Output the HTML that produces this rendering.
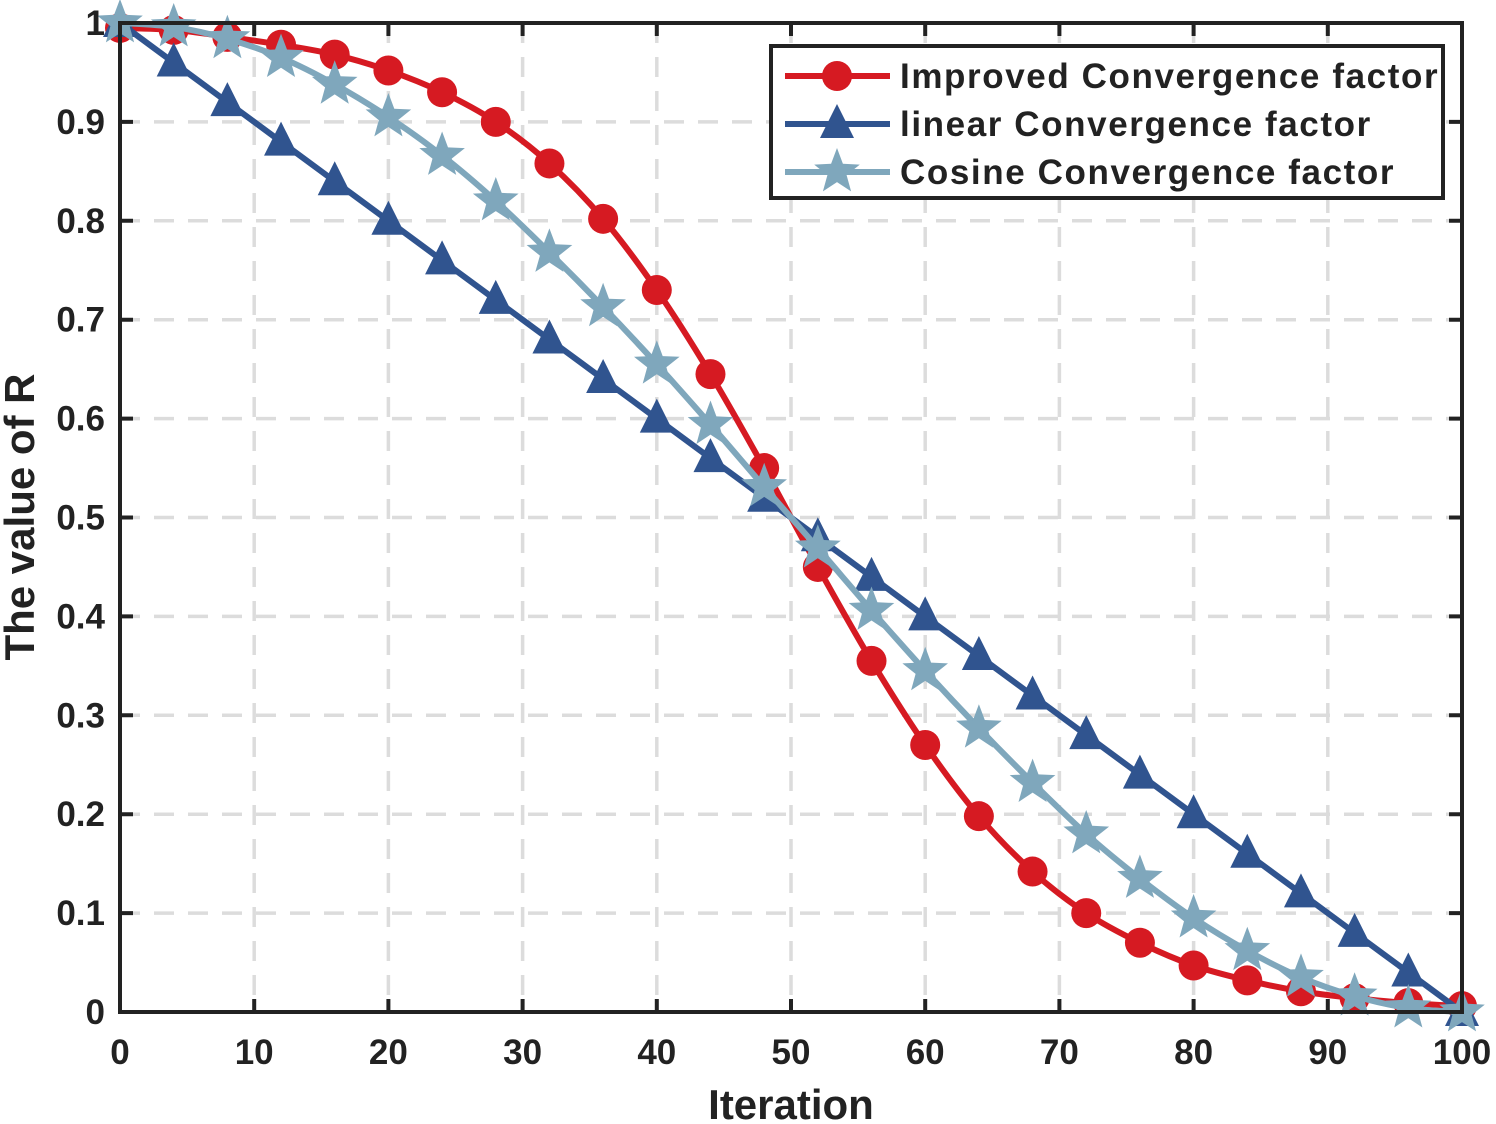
<!DOCTYPE html>
<html><head><meta charset="utf-8"><style>
html,body{margin:0;padding:0;background:#fff}
svg{display:block;font-family:"Liberation Sans",Arial,sans-serif;font-weight:bold}
</style></head><body>
<svg id="chart" width="1496" height="1124" viewBox="0 0 1496 1124" xmlns="http://www.w3.org/2000/svg">
<g id="grid"></g>
<g id="series"></g>
<g id="axes"></g>
<text x="791" y="1119" font-size="42" text-anchor="middle" fill="#222">Iteration</text>
<text transform="translate(34,517) rotate(-90)" font-size="42" text-anchor="middle" fill="#222">The value of R</text>
<g id="legend"></g>
</svg>
<script>
const xValues=[0,4,8,12,16,20,24,28,32,36,40,44,48,52,56,60,64,68,72,76,80,84,88,92,96,100];
const improvedValues=[0.995,0.993,0.986,0.978,0.968,0.952,0.93,0.9,0.858,0.802,0.73,0.645,0.55,0.45,0.355,0.27,0.198,0.142,0.1,0.07,0.047,0.032,0.021,0.014,0.009,0.006];
const linearValues=[1,0.96,0.92,0.88,0.84,0.8,0.76,0.72,0.68,0.64,0.6,0.56,0.52,0.48,0.44,0.4,0.36,0.32,0.28,0.24,0.2,0.16,0.12,0.08,0.04,0];
const cosineValues=[1,0.996,0.984,0.965,0.938,0.905,0.866,0.82,0.768,0.713,0.655,0.594,0.531,0.469,0.406,0.345,0.287,0.232,0.18,0.135,0.095,0.062,0.035,0.016,0.004,0];
const xTicks=[0,10,20,30,40,50,60,70,80,90,100];
const yTicks=[0,0.1,0.2,0.3,0.4,0.5,0.6,0.7,0.8,0.9,1];
const yTickLabels=["0","0.1","0.2","0.3","0.4","0.5","0.6","0.7","0.8","0.9","1"];
const legendLabels=["Improved Convergence factor","linear Convergence factor","Cosine Convergence factor"];

const L=120,R=1462,T=23,B=1012;
const sx=v=>L+(v/100)*(R-L);
const sy=v=>B-v*(B-T);
const NS="http://www.w3.org/2000/svg";
function mk(tag,attrs,parent){const e=document.createElementNS(NS,tag);for(const k in attrs)e.setAttribute(k,attrs[k]);parent.appendChild(e);return e;}
const grid=document.getElementById('grid'),axes=document.getElementById('axes'),series=document.getElementById('series'),legend=document.getElementById('legend');

xTicks.forEach(t=>{
 if(t>0&&t<100){const g=mk('line',{x1:sx(t),x2:sx(t),y1:T,y2:B,stroke:'#dcdcdc','stroke-width':3.5,'stroke-dasharray':'20 14'},grid);
 
 }
 const tk=mk('path',{d:`M${sx(t)},${B}v-13M${sx(t)},${T}v13`,stroke:'#222','stroke-width':4},axes);
 
 
 const lb=mk('text',{x:sx(t),y:1064,'font-size':35,'text-anchor':'middle',fill:'#222'},axes);lb.textContent=t;
 
 
});
yTicks.forEach((t,i)=>{
 if(t>0&&t<1){const g=mk('line',{x1:L,x2:R,y1:sy(t),y2:sy(t),stroke:'#dcdcdc','stroke-width':3.5,'stroke-dasharray':'20 14'},grid);
 
 }
 const tk=mk('path',{d:`M${L},${sy(t)}h13M${R},${sy(t)}h-13`,stroke:'#222','stroke-width':4},axes);
 
 
 const lb=mk('text',{x:105,y:sy(t)+12,'font-size':35,'text-anchor':'end',fill:'#222'},axes);lb.textContent=yTickLabels[i];
 
 
});
const box=mk('rect',{x:L,y:T,width:R-L,height:B-T,fill:'none',stroke:'#222','stroke-width':4},axes);



function smoothPath(xs,ys){
 const p=xs.map((x,i)=>[sx(x),sy(ys[i])]);let d=`M${p[0][0]},${p[0][1]}`;
 for(let i=0;i<p.length-1;i++){const p0=p[i-1]||p[i],p1=p[i],p2=p[i+1],p3=p[i+2]||p2;
  d+=`C${p1[0]+(p2[0]-p0[0])/6},${p1[1]+(p2[1]-p0[1])/6} ${p2[0]-(p3[0]-p1[0])/6},${p2[1]-(p3[1]-p1[1])/6} ${p2[0]},${p2[1]}`;}
 return d;}
function star(cx,cy,r,color,parent){let pts=[];for(let k=0;k<10;k++){const a=-Math.PI/2+k*Math.PI/5,rr=k%2?r*0.42:r;pts.push((cx+rr*Math.cos(a)).toFixed(1)+','+(cy+rr*Math.sin(a)).toFixed(1));}
 return mk('polygon',{points:pts.join(' '),fill:color},parent);}
function marker(type,cx,cy,color,parent){
 if(type==='circle')return mk('circle',{cx,cy,r:15,fill:color},parent);
 if(type==='tri')return mk('polygon',{points:`${cx},${cy-20} ${cx+17},${cy+14} ${cx-17},${cy+14}`,fill:color},parent);
 return star(cx,cy,24,color,parent);}
const defs=[
 {vals:improvedValues,color:'#d61a22',type:'circle',name:'improved'},
 {vals:linearValues,color:'#30548f',type:'tri',name:'linear'},
 {vals:cosineValues,color:'#7fa7bc',type:'star',name:'cosine'}];
defs.forEach(s=>{
 const g=mk('g',{},series);
 
 
 const ln=mk('path',{d:smoothPath(xValues,s.vals),fill:'none',stroke:s.color,'stroke-width':6},g);
 
 
 xValues.forEach((x,i)=>{const m=marker(s.type,sx(x),sy(s.vals[i]),s.color,g);
  
  });
});
const lb=mk('rect',{x:771,y:46,width:672,height:152,fill:'#fff',stroke:'#222','stroke-width':4},legend);


defs.forEach((s,i)=>{
 const y=76+i*48;
 const g=mk('g',{},legend);
 
 
 mk('line',{x1:785,x2:890,y1:y,y2:y,stroke:s.color,'stroke-width':6},g);
 marker(s.type,837,y,s.color,g);
 const t=mk('text',{x:900,y:y+12,'font-size':35,fill:'#222','letter-spacing':'1.6'},g);t.textContent=legendLabels[i];
});
</script>
</body></html>
